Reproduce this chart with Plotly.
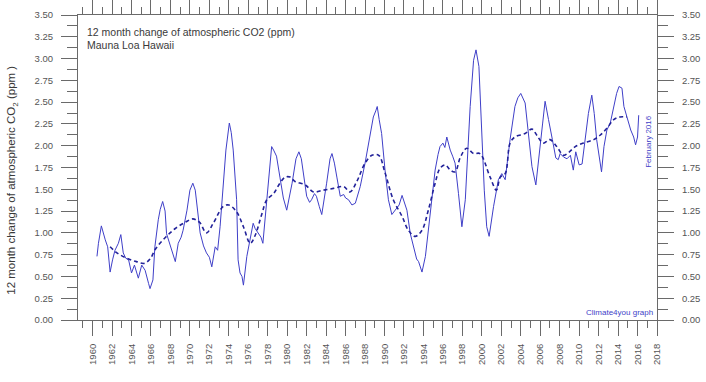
import plotly.graph_objects as go

# 12-month change (ppm)
monthly_years = [
    1960.45, 1960.6, 1960.9, 1961.1, 1961.3, 1961.55, 1961.8, 1962.05, 1962.3, 1962.65,
    1962.9, 1963.15, 1963.4, 1963.7, 1964.0, 1964.3, 1964.55, 1964.7, 1965.05, 1965.4,
    1965.75, 1965.9, 1966.2, 1966.4, 1966.75, 1966.95, 1967.2, 1967.45, 1967.6, 1968.0,
    1968.2, 1968.5, 1968.8, 1969.1, 1969.3, 1969.7, 1970.0, 1970.3, 1970.55, 1970.8,
    1971.05, 1971.4, 1971.7, 1972.0, 1972.25, 1972.6, 1972.85, 1973.1, 1973.4, 1973.7,
    1974.05, 1974.25, 1974.45, 1974.8, 1974.95, 1975.15, 1975.35, 1975.5, 1975.85, 1976.2,
    1976.5, 1976.7, 1977.0, 1977.3, 1977.5, 1977.9, 1978.2, 1978.4, 1978.6, 1978.9,
    1979.25, 1979.6, 1979.95, 1980.2, 1980.5, 1980.9, 1981.2, 1981.45, 1981.65, 1982.0,
    1982.3, 1982.5, 1982.8, 1983.0, 1983.3, 1983.55, 1984.05, 1984.4, 1984.6, 1984.85,
    1985.1, 1985.45, 1985.8, 1986.0, 1986.3, 1986.65, 1987.0, 1987.5, 1988.0, 1988.5,
    1988.85, 1989.1, 1989.25, 1989.45, 1989.7, 1990.05, 1990.4, 1990.75, 1991.0, 1991.25,
    1991.5, 1991.8, 1992.05, 1992.3, 1992.65, 1993.0, 1993.3, 1993.5, 1993.85, 1994.2,
    1994.7, 1995.2, 1995.5, 1995.7, 1996.0, 1996.2, 1996.4, 1996.75, 1997.0, 1997.25,
    1997.6, 1997.95, 1998.3, 1998.6, 1998.8, 1999.15, 1999.4, 1999.7, 2000.0, 2000.25,
    2000.5, 2000.75, 2001.2, 2001.7, 2002.05, 2002.4, 2002.9, 2003.4, 2003.7, 2004.0,
    2004.45, 2004.8, 2005.15, 2005.55, 2005.9, 2006.25, 2006.5, 2006.65, 2006.85, 2007.25,
    2007.6, 2007.85, 2008.05, 2008.4, 2008.75, 2009.1, 2009.4, 2009.65, 2010.0, 2010.3,
    2010.6, 2010.95, 2011.3, 2011.55, 2011.8, 2012.1, 2012.3, 2012.55, 2012.85, 2013.2,
    2013.55, 2013.85, 2014.1, 2014.4, 2014.6, 2014.95, 2015.3, 2015.6, 2015.8, 2016.0,
    2016.12,
]
monthly_change = [
    0.73, 0.88, 1.08, 0.99, 0.92, 0.84, 0.55, 0.69, 0.80, 0.88,
    0.98, 0.77, 0.71, 0.69, 0.54, 0.63, 0.54, 0.48, 0.63, 0.57,
    0.42, 0.36, 0.46, 0.84, 1.15, 1.27, 1.36, 1.25, 0.99, 0.84,
    0.77, 0.67, 0.88, 0.95, 1.03, 1.26, 1.49, 1.57, 1.49, 1.22,
    1.00, 0.85, 0.77, 0.72, 0.61, 0.84, 0.80, 1.07, 1.49, 1.95,
    2.26, 2.15, 1.95, 1.38, 0.69, 0.54, 0.50, 0.40, 0.73, 0.92,
    1.11, 1.05, 1.00, 0.95, 0.88, 1.38, 1.80, 1.99, 1.95, 1.88,
    1.64, 1.40, 1.26, 1.40, 1.57, 1.85, 1.93, 1.85, 1.68, 1.42,
    1.35, 1.38, 1.45, 1.42, 1.30, 1.21, 1.57, 1.85, 1.91, 1.80,
    1.64, 1.42, 1.44, 1.40, 1.38, 1.32, 1.34, 1.53, 1.80, 2.10,
    2.33, 2.40, 2.45, 2.30, 2.14, 1.72, 1.38, 1.21, 1.25, 1.28,
    1.32, 1.43, 1.35, 1.26, 0.99, 0.84, 0.70, 0.67, 0.55, 0.73,
    1.19, 1.72, 1.90, 1.99, 2.03, 1.98, 2.10, 1.95, 1.88, 1.80,
    1.45, 1.07, 1.38, 2.07, 2.45, 2.98, 3.10, 2.91, 2.07, 1.49,
    1.07, 0.96, 1.30, 1.61, 1.68, 1.61, 2.07, 2.45, 2.55, 2.60,
    2.49, 2.14, 1.76, 1.55, 1.87, 2.26, 2.51, 2.40, 2.30, 2.07,
    1.86, 1.84, 1.91, 1.87, 1.85, 1.89, 1.72, 1.93, 1.78, 1.79,
    2.07, 2.37, 2.58, 2.37, 2.07, 1.84, 1.70, 1.99, 2.18, 2.26,
    2.45, 2.60, 2.68, 2.66, 2.45, 2.30, 2.18, 2.10, 2.01, 2.10,
    2.35,
]

# running mean (dashed)
mean_years = [
    1961.8, 1962.5, 1963.5, 1964.5, 1965.3, 1965.9, 1966.5, 1967.5, 1968.5, 1969.5,
    1970.3, 1971.0, 1971.7, 1972.4, 1973.4, 1974.0, 1974.8, 1975.5, 1976.2, 1976.7,
    1977.4, 1977.9, 1978.6, 1979.25, 1979.8, 1980.3, 1980.8, 1981.85, 1982.7, 1983.7,
    1984.75, 1985.8, 1986.45, 1987.15, 1988.0, 1988.7, 1989.4, 1990.05, 1990.9, 1991.8,
    1992.45, 1993.15, 1993.85, 1994.5, 1995.2, 1995.7, 1996.25, 1996.75, 1997.25, 1997.8,
    1998.45, 1999.15, 1999.8, 2000.85, 2001.5, 2001.9, 2002.4, 2002.9, 2003.4, 2004.45,
    2005.15, 2005.65, 2006.3, 2007.0, 2007.7, 2008.4, 2009.0, 2009.6, 2010.45, 2011.5,
    2012.15, 2012.85, 2013.55, 2014.2, 2014.9,
]
mean_change = [
    0.84, 0.77, 0.71, 0.67, 0.65, 0.70, 0.82, 0.95, 1.05, 1.12,
    1.16, 1.12, 1.00, 1.11, 1.30, 1.32, 1.24, 1.07, 0.88, 0.97,
    1.22, 1.38, 1.45, 1.57, 1.64, 1.64, 1.59, 1.55, 1.47, 1.49,
    1.51, 1.53, 1.47, 1.59, 1.80, 1.89, 1.89, 1.69, 1.38, 1.19,
    1.03, 0.96, 1.03, 1.26, 1.57, 1.74, 1.78, 1.72, 1.70, 1.87,
    1.97, 1.91, 1.91, 1.64, 1.49, 1.64, 1.68, 2.03, 2.10, 2.14,
    2.19, 2.12, 2.03, 2.07, 1.99, 1.89, 1.93, 1.99, 2.03, 2.07,
    2.12, 2.20, 2.30, 2.33, 2.33,
]

x_range = [1958.5, 2018]
y_range = [0, 3.5]

axis_col = "#6a6a6a"
lab_col = "#555555"
blue = "#3f3fc8"
dark_blue = "#22229a"
FONT = "Liberation Sans, Arial, sans-serif"

fig = go.Figure()
fig.add_trace(go.Scatter(x=monthly_years, y=monthly_change, mode="lines",
                         line=dict(color=blue, width=1), showlegend=False))
fig.add_trace(go.Scatter(x=mean_years, y=mean_change, mode="lines",
                         line=dict(color=dark_blue, width=1.6, dash="4px,3px"),
                         showlegend=False, line_shape="spline"))
# invisible trace to activate right/top axes
fig.add_trace(go.Scatter(x=[x_range[0]], y=[0], xaxis="x2", yaxis="y2",
                         mode="markers", marker=dict(opacity=0),
                         showlegend=False, hoverinfo="skip"))

common_x = dict(range=x_range, showgrid=False, zeroline=False, showline=True,
                linecolor=axis_col, linewidth=1, ticks="outside", tickcolor=axis_col,
                tick0=1960, dtick=2, automargin=False,
                minor=dict(dtick=1, tick0=1960, ticks="outside", ticklen=7, tickcolor=axis_col))
common_y = dict(range=y_range, showgrid=False, zeroline=False, showline=True,
                linecolor=axis_col, linewidth=1, ticks="outside", tickcolor=axis_col,
                tick0=0, dtick=0.25, tickformat=".2f", automargin=False,
                minor=dict(dtick=0.125, tick0=0, ticks="outside", ticklen=10, tickcolor=axis_col))

fig.update_layout(
    width=706, height=382,
    margin=dict(l=78, r=49, t=15, b=62, autoexpand=False),
    paper_bgcolor="white", plot_bgcolor="white",
    font=dict(family=FONT, size=9, color=lab_col),
    xaxis=dict(**common_x, ticklen=15, tickangle=-90, ticklabelstandoff=4,
               tickfont=dict(size=9.5, color=lab_col)),
    xaxis2=dict(**common_x, ticklen=14, overlaying="x", side="top",
                showticklabels=False),
    yaxis=dict(**common_y, ticklen=16, ticklabelstandoff=6,
               tickfont=dict(size=9.5, color=lab_col)),
    yaxis2=dict(**common_y, ticklen=16, overlaying="y", side="right",
                ticklabelstandoff=6, tickfont=dict(size=9.5, color=lab_col)),
)

fig.add_annotation(xref="paper", yref="paper", x=0.012, y=0.944, xanchor="left",
                   yanchor="middle", showarrow=False,
                   text="12 month change of atmospheric CO2 (ppm)",
                   font=dict(size=10.5, color="#3a3a3a", family=FONT))
fig.add_annotation(xref="paper", yref="paper", x=0.012, y=0.902, xanchor="left",
                   yanchor="middle", showarrow=False, text="Mauna Loa Hawaii",
                   font=dict(size=10.5, color="#3a3a3a", family=FONT))
fig.add_annotation(xref="paper", yref="paper", x=-0.114, y=0.46, xanchor="center",
                   yanchor="middle", showarrow=False, textangle=-90,
                   text="12 month change of atmospheric CO<sub>2</sub> (ppm )",
                   font=dict(size=11.5, color="#3a3a3a", family=FONT))
fig.add_annotation(xref="paper", yref="paper", x=0.986, y=0.587, xanchor="center",
                   yanchor="middle", showarrow=False, textangle=-90,
                   text="February 2016", font=dict(size=8, color=blue, family=FONT))
fig.add_annotation(xref="paper", yref="paper", x=0.996, y=0.025, xanchor="right",
                   yanchor="middle", showarrow=False, text="Climate4you graph",
                   font=dict(size=8, color=blue, family=FONT))

fig.write_html("out.html", config={"displayModeBar": False},
               post_script="document.body.style.margin='0';document.body.style.overflow='hidden';")
